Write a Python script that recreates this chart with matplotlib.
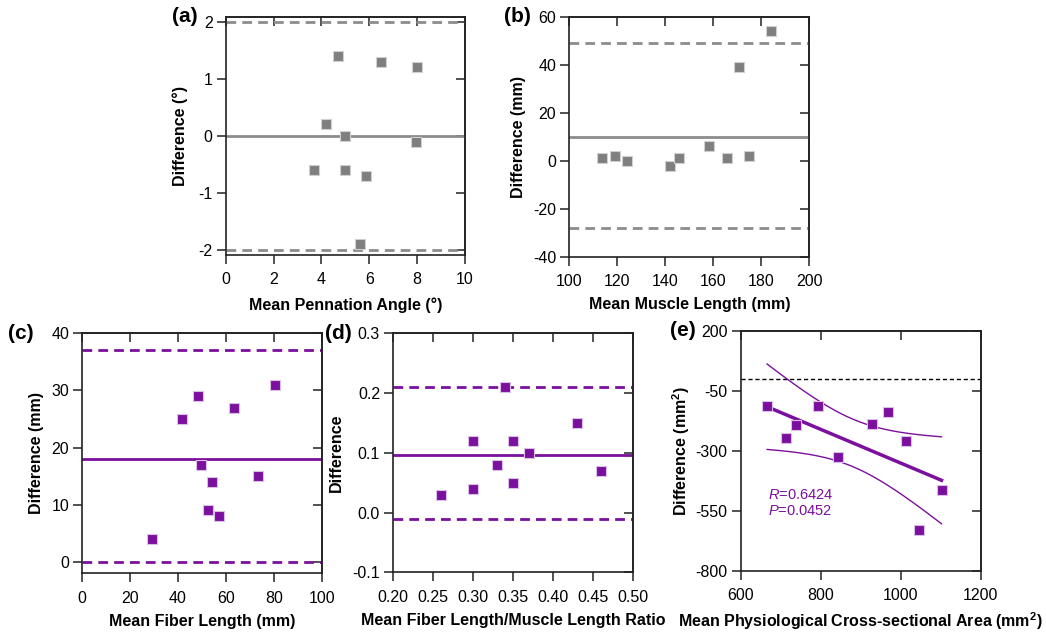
import numpy as np
import matplotlib
matplotlib.use("Agg")
import matplotlib.pyplot as plt

plt.rcParams['font.family'] = ['Liberation Sans', 'DejaVu Sans']
plt.rcParams['mathtext.fontset'] = 'custom'
plt.rcParams['mathtext.rm'] = 'Liberation Sans'
plt.rcParams['mathtext.it'] = 'Liberation Sans:italic'
plt.rcParams['mathtext.bf'] = 'Liberation Sans:bold'
plt.rcParams['axes.unicode_minus'] = False

# ---------------- data ----------------
# (a) pennation angle
a_mean = [3.7, 4.2, 4.7, 5.0, 5.0, 5.6, 5.85, 6.5, 8.0, 7.95]
a_diff = [-0.6, 0.2, 1.4, 0.0, -0.6, -1.9, -0.7, 1.3, 1.2, -0.1]
a_bias, a_lo, a_hi = 0.0, -2.0, 2.0

# (b) muscle length
b_mean = [113.5, 119, 124, 142, 145.5, 158, 165.5, 170.5, 175, 184]
b_diff = [1, 2, 0, -2, 1, 6, 1, 39, 2, 54]
b_bias, b_lo, b_hi = 10.0, -28.0, 49.0

# (c) fiber length
c_mean = [29, 41.5, 48.5, 49.5, 52.5, 54, 57, 63.5, 73.5, 80.5]
c_diff = [4, 25, 29, 17, 9, 14, 8, 27, 15, 31]
c_bias, c_lo, c_hi = 18.0, 0.0, 37.0

# (d) fiber length / muscle length ratio
d_mean = [0.26, 0.30, 0.30, 0.33, 0.34, 0.35, 0.35, 0.37, 0.43, 0.46]
d_diff = [0.03, 0.12, 0.04, 0.08, 0.21, 0.12, 0.05, 0.10, 0.15, 0.07]
d_bias, d_lo, d_hi = 0.097, -0.01, 0.21

# (e) PCSA
e_mean = [666, 713, 738, 794, 844, 928, 967, 1014, 1046, 1102]
e_diff = [-115, -247, -193, -115, -328, -190, -137, -261, -630, -465]
e_ref = 0.0
e_text = ["$\\it{R}$=0.6424", "$\\it{P}$=0.0452"]
T_CRIT = 2.306  # t(0.975, df=8)

GRAY_M = '#7f7f7f'
GRAY_L = '#8c8c8c'
PURPLE = '#7b0f9e'
SPINE = '#222222'
FS = 11.5

fig = plt.figure(figsize=(10.46, 6.32), dpi=100)
W, H = 1046, 632


def make_ax(l, t, r, b):
    return fig.add_axes([l / W, 1 - b / H, (r - l) / W, (b - t) / H])


def style(ax, xlim, ylim, xticks, yticks, xlabel, ylabel, panel, geom,
          ylab_dist, xlab_dist, panel_dx, xfmt=None, yfmt=None):
    l, t, r, b = geom
    wpx, hpx = r - l, b - t
    ax.set_xlim(*xlim)
    ax.set_ylim(*ylim)
    ax.set_xticks(xticks)
    ax.set_yticks(yticks)
    if xfmt:
        ax.set_xticklabels([xfmt.format(v) for v in xticks])
    if yfmt:
        ax.set_yticklabels([yfmt.format(v) for v in yticks])
    for s in ax.spines.values():
        s.set_color(SPINE)
        s.set_linewidth(1.2)
    ax.tick_params(direction='out', length=6.5, width=1.1, color=SPINE,
                   labelsize=FS, pad=3)
    ax.tick_params(axis='x', pad=6)
    sx = ax.secondary_xaxis('top')
    sx.set_xticks(xticks)
    sx.tick_params(direction='in', length=6.5, width=1.1, color=SPINE, labeltop=False)
    sx.spines['top'].set_linewidth(1.2)
    sx.spines['top'].set_color(SPINE)
    sy = ax.secondary_yaxis('right')
    sy.set_yticks(yticks)
    sy.tick_params(direction='in', length=6.5, width=1.1, color=SPINE, labelright=False)
    sy.spines['right'].set_linewidth(1.2)
    sy.spines['right'].set_color(SPINE)
    ax.set_xlabel(xlabel, fontsize=FS, fontweight='bold', va='center')
    ax.set_ylabel(ylabel, fontsize=FS, fontweight='bold', va='center')
    ax.xaxis.set_label_coords(0.5, -xlab_dist / hpx)
    ax.yaxis.set_label_coords(-ylab_dist / wpx, 0.5)
    ax.text(-panel_dx / wpx, 1.0, panel, transform=ax.transAxes, fontsize=15,
            fontweight='bold', ha='left', va='center')


def bland(ax, xm, yd, bias, lo, hi, color, lcolor, edge):
    ax.axhline(bias, color=lcolor, lw=2.0, zorder=1)
    for v in (lo, hi):
        ax.axhline(v, color=lcolor, lw=2.0, ls=(0, (3.5, 2.2)), zorder=1)
    ax.scatter(xm, yd, marker='s', s=58, color=color, edgecolors=edge,
               linewidths=0.8, zorder=3)


# (a)
ga = (225.7, 16.7, 465, 255)
axa = make_ax(*ga)
bland(axa, a_mean, a_diff, a_bias, a_lo, a_hi, GRAY_M, GRAY_L, '#d0d0d0')
style(axa, (0, 10), (-2.09, 2.09), [0, 2, 4, 6, 8, 10], [-2, -1, 0, 1, 2],
      'Mean Pennation Angle (°)', 'Difference (°)', '(a)', ga, 45, 50, 54)

# (b)
gb = (569.3, 16.7, 809.3, 256.7)
axb = make_ax(*gb)
bland(axb, b_mean, b_diff, b_bias, b_lo, b_hi, GRAY_M, GRAY_L, '#d0d0d0')
style(axb, (100, 200), (-40, 60), [100, 120, 140, 160, 180, 200],
      [-40, -20, 0, 20, 40, 60], 'Mean Muscle Length (mm)', 'Difference (mm)', '(b)',
      gb, 51, 48, 65)

# (c)
gc = (82.3, 333.3, 321.7, 573.3)
axc = make_ax(*gc)
bland(axc, c_mean, c_diff, c_bias, c_lo, c_hi, PURPLE, PURPLE, '#d9bfe6')
style(axc, (0, 100), (-2, 40), [0, 20, 40, 60, 80, 100], [0, 10, 20, 30, 40],
      'Mean Fiber Length (mm)', 'Difference (mm)', '(c)', gc, 46, 48, 74)

# (d)
gd = (393.3, 333.3, 632.7, 572.3)
axd = make_ax(*gd)
bland(axd, d_mean, d_diff, d_bias, d_lo, d_hi, PURPLE, PURPLE, '#d9bfe6')
style(axd, (0.2, 0.5), (-0.1, 0.3), [0.20, 0.25, 0.30, 0.35, 0.40, 0.45, 0.50],
      [-0.1, 0.0, 0.1, 0.2, 0.3], 'Mean Fiber Length/Muscle Length Ratio',
      'Difference', '(d)', gd, 57, 48, 68, xfmt='{:.2f}', yfmt='{:.1f}')

# (e)
ge = (740.7, 330.7, 980.7, 570.7)
axe = make_ax(*ge)
x = np.array(e_mean, float)
y = np.array(e_diff, float)
slope, icpt = np.polyfit(x, y, 1)
xs = np.linspace(x.min(), x.max(), 200)
yhat = slope * xs + icpt
resid = y - (slope * x + icpt)
n = len(x)
se = np.sqrt(np.sum(resid ** 2) / (n - 2))
band = T_CRIT * se * np.sqrt(1 / n + (xs - x.mean()) ** 2 / np.sum((x - x.mean()) ** 2))
axe.axhline(e_ref, color='black', lw=1.0, ls=(0, (3, 2)), zorder=1)
axe.plot(xs, yhat, color=PURPLE, lw=2.5, zorder=2)
axe.plot(xs, yhat + band, color=PURPLE, lw=1.0, zorder=2)
axe.plot(xs, yhat - band, color=PURPLE, lw=1.0, zorder=2)
axe.scatter(x, y, marker='s', s=58, color=PURPLE, edgecolors='#d9bfe6',
            linewidths=0.8, zorder=3)
axe.text(667, -485, e_text[0], color=PURPLE, fontsize=10.5, va='center', ha='left')
axe.text(667, -551, e_text[1], color=PURPLE, fontsize=10.5, va='center', ha='left')
style(axe, (600, 1200), (-800, 200), [600, 800, 1000, 1200],
      [-800, -550, -300, -50, 200],
      'Mean Physiological Cross-sectional Area (mm$^{\\mathbf{2}}$)',
      'Difference (mm$^{\\mathbf{2}}$)', '(e)', ge, 60, 50, 71)

fig.savefig('out.png', dpi=100)
